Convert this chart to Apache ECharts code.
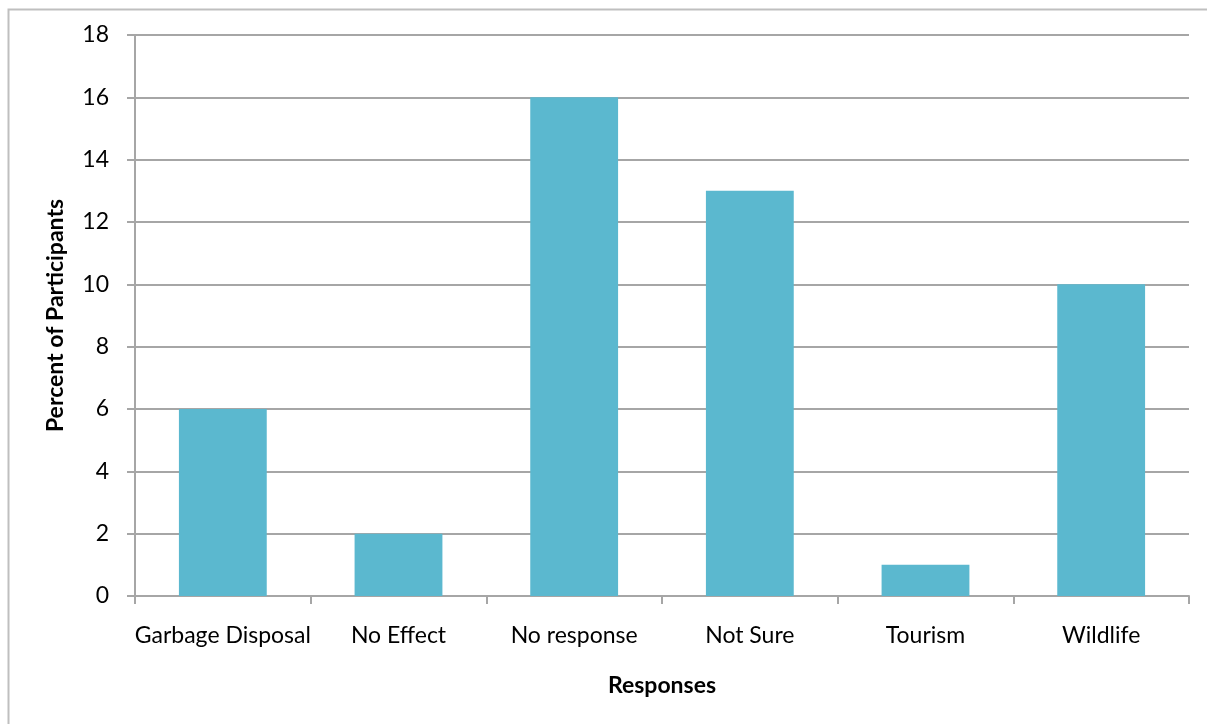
<!DOCTYPE html>
<html>
<head>
<meta charset="utf-8">
<script src="https://cdn.jsdelivr.net/npm/echarts@6/dist/echarts.min.js"></script>
<style>
  html, body { margin: 0; padding: 0; background: #fff; }
  #chart { width: 1207px; height: 724px; }
</style>
</head>
<body>
<div id="chart"></div>
<script>
// Survey responses and their share of participants (%)
const categories = ['Garbage Disposal', 'No Effect', 'No response', 'Not Sure', 'Tourism', 'Wildlife'];
const percents = [6, 2, 16, 13, 1, 10];
const yTicks = { min: 0, max: 18, step: 2 };

const FONT = 'Lato';
const GRID_COLOR = '#a6a6a6';
const chart = echarts.init(document.getElementById('chart'), null, { renderer: 'canvas' });

chart.setOption({
  animation: false,
  backgroundColor: '#fff',
  graphic: [{
    type: 'rect',
    left: 6, top: 7,
    shape: { width: 1300, height: 800 },
    style: { fill: 'none', stroke: '#bfbfbf', lineWidth: 2 },
    silent: true,
    z: -1
  }],
  grid: { left: 135, right: 18, top: 35, bottom: 128, containLabel: false },
  xAxis: {
    type: 'category',
    data: categories,
    name: 'Responses',
    nameLocation: 'middle',
    nameGap: 78,
    nameTextStyle: { fontFamily: FONT, fontSize: 23, fontWeight: 'bold', color: '#000' },
    axisLine: { lineStyle: { color: GRID_COLOR, width: 2 } },
    axisTick: { show: true, alignWithLabel: false, length: 8, lineStyle: { color: GRID_COLOR, width: 2 } },
    axisLabel: { fontFamily: FONT, fontSize: 23, color: '#000', margin: 28, interval: 0 }
  },
  yAxis: {
    type: 'value',
    min: yTicks.min, max: yTicks.max, interval: yTicks.step,
    name: 'Percent of Participants',
    nameLocation: 'middle',
    nameGap: 68,
    nameRotate: 90,
    nameTextStyle: { fontFamily: FONT, fontSize: 23, fontWeight: 'bold', color: '#000' },
    axisLine: { show: true, lineStyle: { color: GRID_COLOR, width: 2 } },
    axisTick: { show: true, length: 8, lineStyle: { color: GRID_COLOR, width: 2 } },
    axisLabel: { fontFamily: FONT, fontSize: 23, color: '#000', margin: 26 },
    splitLine: { show: true, lineStyle: { color: GRID_COLOR, width: 2 } }
  },
  series: [{
    type: 'bar',
    data: percents,
    barCategoryGap: '50%',
    itemStyle: { color: '#5bb8cf' }
  }]
});
</script>
</body>
</html>
